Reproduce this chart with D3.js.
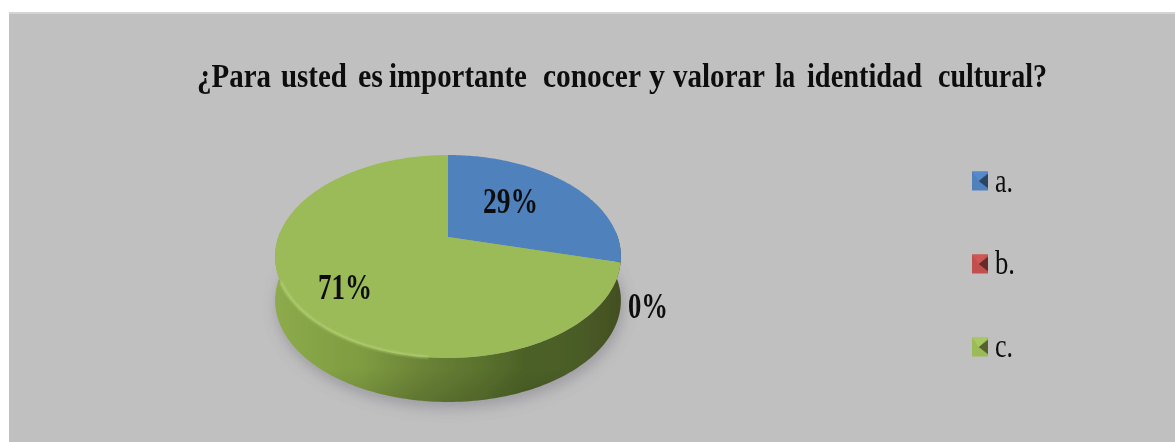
<!DOCTYPE html>
<html><head><meta charset="utf-8">
<script src="https://cdn.jsdelivr.net/npm/d3@7"></script>
<style>html,body{margin:0;padding:0;background:#fff;overflow:hidden}svg{display:block}
text{font-family:"Liberation Serif",serif;fill:#111}</style></head>
<body><div id="c"></div>
<script>
const titleWords = ["¿Para","usted","es","importante","conocer","y","valorar","la","identidad","cultural?"];
const categories = ["a.","b.","c."];
const values = [29,0,71];
const labels = ["29%","0%","71%"];
const colors = ["#4f81bd","#c0504d","#9bbb59"];

const W=1175,H=442;
const titleBox=[[197,74],[281,66],[358,25],[389,138],[543,98],[649,16],[673,92],[775,20],[807,115],[938,109]];
const labelBox=[[483,213,55],[628,318,40],[318,299,54]];
const legendBox=[[995,192,18],[995,274,20],[995,357,18]];

const svg=d3.select("#c").append("svg").attr("width",W).attr("height",H);
const defs=svg.append("defs");
defs.append("filter").attr("id","soft").attr("filterUnits","userSpaceOnUse").attr("x",0).attr("y",0).attr("width",W).attr("height",H)
  .append("feGaussianBlur").attr("stdDeviation",0.7);
defs.append("filter").attr("id","shadow").attr("x","-20%").attr("y","-20%").attr("width","140%").attr("height","140%")
  .append("feGaussianBlur").attr("stdDeviation",7);
defs.append("filter").attr("id","rim").attr("x","-10%").attr("y","-30%").attr("width","120%").attr("height","160%")
  .append("feGaussianBlur").attr("stdDeviation",1.2);
const sg=defs.append("linearGradient").attr("id","side").attr("gradientUnits","userSpaceOnUse")
  .attr("x1",275).attr("x2",621).attr("y1",0).attr("y2",0);
[[0,"#8dab4c"],[.1,"#86a546"],[.25,"#7f9c41"],[.42,"#6b8437"],[.6,"#5a722e"],[.72,"#4c6127"],[.88,"#4a5c26"],[1,"#434f22"]]
  .forEach(([o,c])=>sg.append("stop").attr("offset",o).attr("stop-color",c));
const vg=defs.append("linearGradient").attr("id","sideV").attr("x1",0).attr("x2",0).attr("y1",0).attr("y2",1);
[[.8,"#000",0],[1,"#000",.12]].forEach(([o,c,a])=>vg.append("stop").attr("offset",o).attr("stop-color",c).attr("stop-opacity",a));

svg.append("rect").attr("x",9).attr("y",12).attr("width",W-9).attr("height",H-12).attr("fill","#c0c0c0");
svg.append("rect").attr("x",9).attr("y",12).attr("width",W-9).attr("height",2).attr("fill","#d4d4d4");
const root=svg.append("g").attr("filter","url(#soft)");

// pie geometry (perspective projection of a unit disc)
const apexX=448, apexY=237, radX=169.7, persp=-0.192, sy=52.2, depth=44;
const px=(u,v)=>apexX+radX*u/(1+persp*v);
const py=(u,v)=>(sy*v+apexY)/(1+persp*v);
const arcPts=(a0,a1,n=120)=>d3.range(n+1).map(i=>{const a=a0+(a1-a0)*i/n;const u=Math.sin(a),v=-Math.cos(a);return [px(u,v),py(u,v)];});
const line=d3.line();
const arcs=d3.pie().sort(null).value(d=>d)(values);
const full=arcPts(0,2*Math.PI,240);
const lift=d=>d.map(([x,y])=>[x,y+depth]);

const pieG=root.append("g");
pieG.append("path").attr("d",line(full.map(([x,y])=>[x+2,y+depth+6]))+"Z").attr("fill","#8c8c94").attr("opacity",.7).attr("filter","url(#shadow)");

const rim=arcPts(Math.PI/2-0.06,Math.PI*1.5+0.06,160);
const sidePath=line(rim.concat(lift(rim).reverse()))+"Z";
pieG.append("path").attr("d",sidePath).attr("fill","url(#side)");
pieG.append("path").attr("d",sidePath).attr("fill","url(#sideV)");

pieG.selectAll("path.slice").data(arcs).join("path").attr("class","slice")
  .attr("d",d=>line([[apexX,apexY],...arcPts(d.startAngle,d.endAngle)])+"Z")
  .attr("fill",(d,i)=>colors[i]);
pieG.append("path").attr("d",line(arcPts(Math.PI*1.03,Math.PI*1.36,60))).attr("fill","none").attr("stroke","#c8e383").attr("stroke-width",2.2).attr("opacity",.6).attr("filter","url(#rim)");

// text condensed to its measured width with a real scale, so each box is true
const fit=(sel,fs,box,yOf)=>sel.attr("font-size",fs).attr("transform",function(d,i){
  const s=box[i][box[i].length-1]/this.getComputedTextLength();
  return `translate(${box[i][0]},${yOf(i)}) scale(${s},1)`;
});
fit(root.selectAll("text.lab").data(labels).join("text").attr("class","lab").attr("font-weight","bold").text(d=>d),35,labelBox,i=>labelBox[i][1]);
fit(root.selectAll("text.ttl").data(titleWords).join("text").attr("class","ttl").attr("font-weight","bold").text(d=>d),33,titleBox,()=>87);

// legend
const ly=d3.scalePoint().domain(categories).range([181,347]);
const lg=root.selectAll("g.leg").data(categories).join("g").attr("class","leg").attr("transform",d=>`translate(972,${ly(d)})`);
const sw=16, sh=19;
lg.append("rect").attr("x",0).attr("y",-sh/2).attr("width",sw).attr("height",sh).attr("fill",(d,i)=>colors[i]);
lg.append("path").attr("d",`M${sw},${-sh*.38}L${sw*.42},0L${sw},${sh*.38}Z`).attr("fill",(d,i)=>d3.color(colors[i]).darker(1.8));
lg.append("path").attr("d",`M0,${-sh/2}L${sw*.42},0L${sw},${-sh/2}Z`).attr("fill",(d,i)=>d3.color(colors[i]).brighter(.2));
fit(root.selectAll("text.legt").data(categories).join("text").attr("class","legt").text(d=>d),34,legendBox,i=>legendBox[i][1]);
</script></body></html>
